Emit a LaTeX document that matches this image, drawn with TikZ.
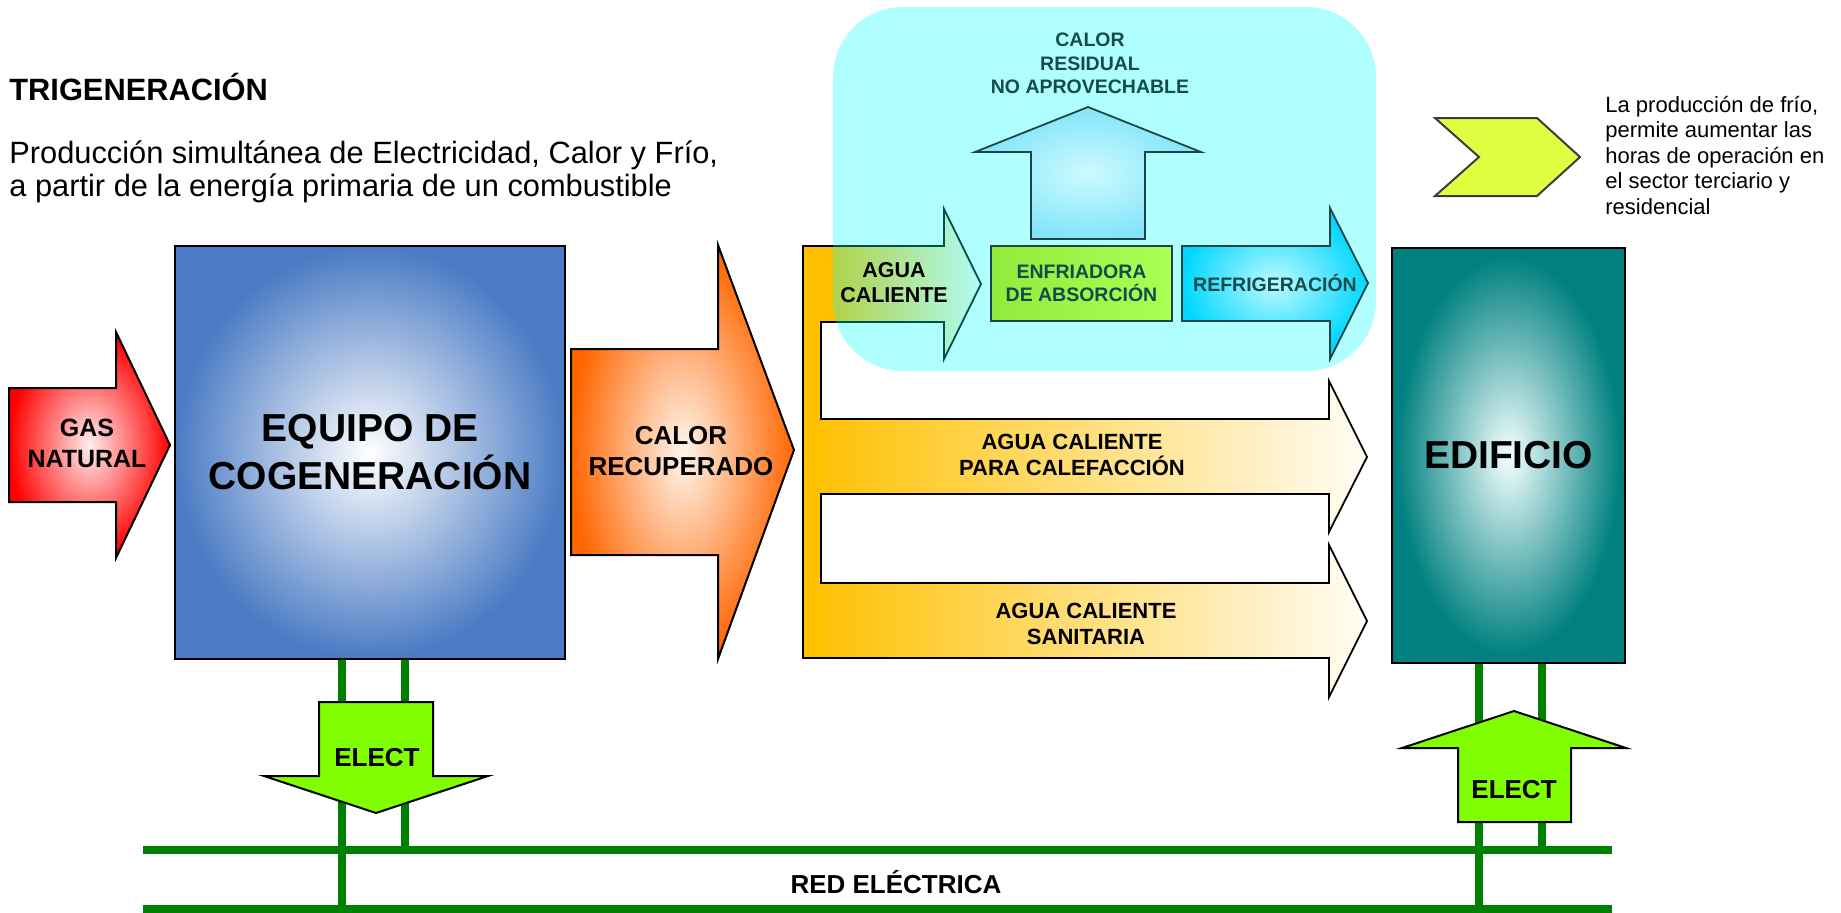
\documentclass[tikz,border=0pt]{standalone}
\usepackage{fontspec}
\setmainfont{Liberation Sans}

% palette
\definecolor{gasRed}{RGB}{255,0,0}
\definecolor{gasCore}{RGB}{255,238,238}
\definecolor{eqBlue}{RGB}{74,123,196}
\definecolor{recOrange}{RGB}{255,102,0}
\definecolor{recCore}{RGB}{255,246,238}
\definecolor{gold}{RGB}{255,192,0}
\definecolor{edTeal}{RGB}{0,128,128}
\definecolor{edCore}{RGB}{245,255,255}
\definecolor{gridGreen}{RGB}{0,128,0}
\definecolor{electGreen}{RGB}{128,255,0}
\definecolor{haloCyan}{RGB}{0,255,255}
\definecolor{coldText}{RGB}{20,75,75}
\definecolor{coldEdge}{RGB}{30,70,70}
\definecolor{refEdge}{RGB}{0,215,255}
\definecolor{refCore}{RGB}{190,250,255}
\definecolor{resEdge}{RGB}{130,228,250}
\definecolor{resCore}{RGB}{205,250,255}
\definecolor{enfLeft}{RGB}{145,235,60}
\definecolor{enfRight}{RGB}{172,255,85}
\definecolor{chevFill}{RGB}{224,255,64}
\definecolor{chevEdge}{RGB}{60,60,60}

% shadings (path bounding box spans 25bp..75bp)
\pgfdeclareradialshading{gasShade}{\pgfpoint{0bp}{0bp}}{color(0bp)=(gasCore); color(25bp)=(gasRed); color(50bp)=(gasRed)}
\pgfdeclareradialshading{eqShade}{\pgfpoint{0bp}{0bp}}{color(0bp)=(white); color(25bp)=(eqBlue); color(50bp)=(eqBlue)}
\pgfdeclareradialshading{recShade}{\pgfpoint{0bp}{0bp}}{color(0bp)=(recCore); color(25bp)=(recOrange); color(50bp)=(recOrange)}
\pgfdeclareradialshading{edShade}{\pgfpoint{0bp}{0bp}}{color(0bp)=(edCore); color(24bp)=(edTeal); color(50bp)=(edTeal)}
\pgfdeclareradialshading{refShade}{\pgfpoint{0bp}{0bp}}{color(0bp)=(refCore); color(25bp)=(refEdge); color(50bp)=(refEdge)}
\pgfdeclareradialshading{resShade}{\pgfpoint{0bp}{0bp}}{color(0bp)=(resCore); color(25bp)=(resEdge); color(50bp)=(resEdge)}
\pgfdeclarehorizontalshading{hotShort}{100bp}{color(0bp)=(gold); color(35bp)=(gold); color(77bp)=(white); color(100bp)=(white)}
\pgfdeclarehorizontalshading{hotLong}{100bp}{color(0bp)=(gold); color(25bp)=(gold); color(77bp)=(white); color(100bp)=(white)}

\tikzset{
  outl/.style={draw=black, line width=1pt},
  coldoutl/.style={draw=coldEdge, line width=0.9pt},
  feeder/.style={draw=gridGreen, line width=3.7pt},
  busbar/.style={draw=gridGreen, line width=4.4pt},
  biglbl/.style={inner sep=0pt, align=center, font=\bfseries\fontsize{19.5}{24}\selectfont},
  midlbl/.style={inner sep=0pt, align=center, font=\bfseries\fontsize{13}{15.5}\selectfont},
  hotlbl/.style={inner sep=0pt, align=center, font=\bfseries\fontsize{11}{13.25}\selectfont},
  coldlbl/.style={inner sep=0pt, align=center, text=coldText, font=\bfseries\fontsize{9.75}{11.75}\selectfont},
  electlbl/.style={inner sep=0pt, font=\bfseries\fontsize{13}{16}\selectfont},
}

\begin{document}
\begin{tikzpicture}[x=0.5pt, y=-0.5pt, line join=miter]
\useasboundingbox (0,0) rectangle (1841,912);

% ---- grid bus bars and feeder positions
\coordinate (busHiW) at (143,850);
\coordinate (busHiE) at (1612,850);
\coordinate (busLoW) at (143,909);
\coordinate (busLoE) at (1612,909);
\coordinate (fA) at (342,0);
\coordinate (fB) at (405,0);
\coordinate (fC) at (1479,0);
\coordinate (fD) at (1542,0);

% ---- main blocks
\node[outl, shade, shading=eqShade, minimum width=195pt, minimum height=206.5pt,
      biglbl] (equipo) at (370,452.5) {EQUIPO DE\\COGENERACIÓN};
\node[outl, shade, shading=edShade, minimum width=116.5pt, minimum height=207.5pt,
      biglbl] (edificio) at (1508.5,455.5) {EDIFICIO};

% ---- feeders to the grid
\draw[feeder] (equipo.south -| fA) -- (busLoW -| fA);
\draw[feeder] (equipo.south -| fB) -- (busHiW -| fB);
\draw[feeder] (edificio.south -| fC) -- (busLoW -| fC);
\draw[feeder] (edificio.south -| fD) -- (busHiW -| fD);
\draw[busbar] (busHiW) -- (busHiE);
\draw[busbar] (busLoW) -- (busLoE);

% ---- fuel input
\path[outl, shade, shading=gasShade] (9,388) -- (116,388) -- (116,332) -- (170,445)
  -- (116,558) -- (116,502) -- (9,502) -- cycle;
\node[midlbl, font=\bfseries\fontsize{12.5}{15.5}\selectfont] (gas) at (87,443.5) {GAS\\NATURAL};

% ---- recovered heat
\path[outl, shade, shading=recShade] (571,349) -- (718,349) -- (718,245) -- (794,450)
  -- (718,659) -- (718,555) -- (571,555) -- cycle;
\node[midlbl] (recuperado) at (681,451.5) {CALOR\\RECUPERADO};

% ---- hot water distribution
\path[shade, shading=hotShort] (803,246) -- (944,246) -- (944,209) -- (981,284)
  -- (944,359) -- (944,322) -- (803,322) -- cycle;
\path[shade, shading=hotLong] (803,419) -- (1329,419) -- (1329,381) -- (1367,457)
  -- (1329,532) -- (1329,494) -- (803,494) -- cycle;
\path[shade, shading=hotLong] (803,583) -- (1329,583) -- (1329,545) -- (1367,621)
  -- (1329,697) -- (1329,658) -- (803,658) -- cycle;
\fill[gold] (803,246) rectangle (821,658);
\draw[outl, line width=0.9pt] (803,246) -- (944,246) -- (944,209) -- (981,284) -- (944,359)
  -- (944,322) -- (821,322) -- (821,419) -- (1329,419) -- (1329,381) -- (1367,457)
  -- (1329,532) -- (1329,494) -- (821,494) -- (821,583) -- (1329,583) -- (1329,545)
  -- (1367,621) -- (1329,697) -- (1329,658) -- (803,658) -- cycle;
\node[hotlbl] (calefaccion) at (1072,455) {AGUA CALIENTE\\PARA CALEFACCIÓN};
\node[hotlbl] (sanitaria) at (1086,624) {AGUA CALIENTE\\SANITARIA};

% ---- absorption cooling zone
\fill[haloCyan, opacity=0.31, rounded corners=35pt] (833,7) rectangle (1376,371);
\path[coldoutl, shade, shading=resShade] (1031,239) -- (1031,152) -- (975,152) -- (1088,107)
  -- (1201,152) -- (1145,152) -- (1145,239) -- cycle;
\node[coldlbl] (residual) at (1090,63.5) {CALOR\\RESIDUAL\\NO APROVECHABLE};
\node[coldoutl, left color=enfLeft, right color=enfRight, minimum width=90.5pt,
      minimum height=37.5pt, coldlbl] (enfriadora) at (1081.5,283.5) {ENFRIADORA\\DE ABSORCIÓN};
\path[coldoutl, shade, shading=refShade] (1182,246) -- (1330,246) -- (1330,208) -- (1368,283)
  -- (1330,359) -- (1330,321) -- (1182,321) -- cycle;
\node[coldlbl, anchor=base] (refrigeracion) at (1275,291) {REFRIGERACIÓN};
\node[hotlbl, font=\bfseries\fontsize{10.75}{12.5}\selectfont] (aguaCaliente) at (894,283) {AGUA\\CALIENTE};

% ---- electricity exchange
\path[outl, fill=electGreen] (319,702) -- (433,702) -- (433,776) -- (488,776) -- (376,813)
  -- (264,776) -- (319,776) -- cycle;
\node[electlbl] (electOut) at (377,758) {ELECT};
\path[outl, fill=electGreen] (1514,711) -- (1626,748) -- (1571,748) -- (1571,822)
  -- (1458,822) -- (1458,748) -- (1402,748) -- cycle;
\node[electlbl] (electIn) at (1514,790) {ELECT};
\node[inner sep=0pt, anchor=base, font=\bfseries\fontsize{13}{15}\selectfont] (red) at (896,893) {RED ELÉCTRICA};

% ---- headings and notes (multi-line nodes sit on their last baseline)
\node[anchor=base west, inner sep=0pt, font=\bfseries\fontsize{15.4}{18}\selectfont] (titulo) at (9,100) {TRIGENERACIÓN};
\node[anchor=base west, inner sep=0pt, align=left, font=\fontsize{15.4}{16.5}\selectfont] (intro) at (9,196)
  {Producción simultánea de Electricidad, Calor y Frío,\\a partir de la energía primaria de un combustible};
\path[draw=chevEdge, line width=1pt, fill=chevFill] (1435,118) -- (1537,118) -- (1580,157)
  -- (1537,196) -- (1435,196) -- (1479,157) -- cycle;
\node[anchor=base west, inner sep=0pt, align=left, font=\fontsize{11}{12.75}\selectfont] (nota) at (1605,214)
  {La producción de frío,\\permite aumentar las\\horas de operación en\\el sector terciario y\\residencial};
\end{tikzpicture}
\end{document}
